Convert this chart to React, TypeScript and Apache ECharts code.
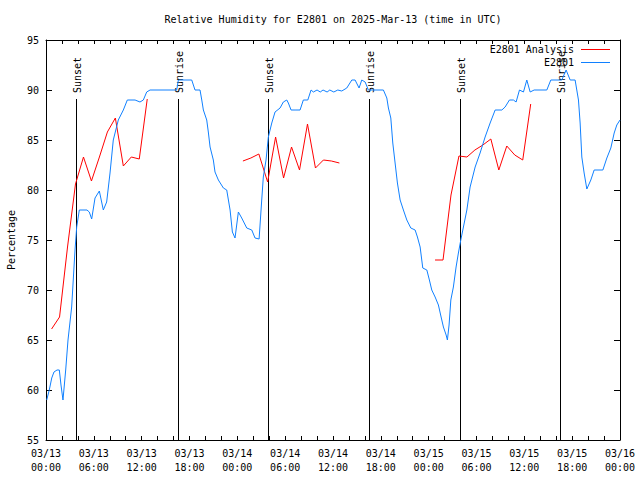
import React, { useEffect, useRef } from "react";
import * as echarts from "echarts";

const FONT = '"DejaVu Sans Mono", "Liberation Mono", monospace';

const TITLE = "Relative Humidity for E2801 on 2025-Mar-13 (time in UTC)";
const Y_LABEL = "Percentage";
const START_DAY = 13;

// Observed E2801 series: hours since 03/13 00:00 UTC and values (%)
const obsHours = [
  0.09, 0.41, 0.72, 1.0, 1.38, 1.67, 1.88, 2.13, 2.47, 2.76, 3.22, 3.64, 3.85, 4.18, 5.14, 5.43, 5.73,
  6.15, 6.69, 7.19, 7.61, 8.03, 8.44, 9.07, 9.7, 10.2, 11.17, 11.79, 12.21, 12.63, 13.05, 16.4, 16.6,
  18.28, 18.69, 19.32, 19.54, 19.74, 20.16, 20.36, 20.58, 20.99, 21.2, 21.62, 22.25, 22.67, 23.09,
  23.38, 23.71, 24.13, 24.55, 25.18, 25.81, 26.22, 26.73, 27.06, 27.26, 27.6, 27.89, 28.32, 28.73,
  29.36, 29.77, 30.2, 30.4, 30.74, 31.24, 31.87, 32.28, 32.84, 33.25, 33.54, 34.0, 34.4, 34.75, 35.26,
  35.6, 36.1, 36.6, 37.1, 37.73, 38.36, 38.77, 39.27, 39.61, 40.03, 40.44, 42.32, 42.75, 42.95, 43.25,
  43.5, 43.79, 44.08, 44.42, 44.83, 45.26, 45.76, 46.3, 46.59, 46.93, 47.26, 47.77, 48.09, 48.39,
  48.81, 49.22, 49.56, 49.85, 50.19, 50.35, 50.56, 50.78, 51.1, 51.44, 51.73, 52.03, 52.36, 52.79,
  53.2, 53.83, 54.45, 55.08, 55.71, 56.34, 57.18, 57.59, 58.13, 58.63, 58.97, 59.39, 59.89, 60.31,
  60.73, 61.23, 62.82, 63.32, 64.7, 65.24, 65.75, 66.37, 66.79, 67.0, 67.21, 67.5, 67.84, 68.34,
  68.76, 69.85, 70.35, 70.85, 71.27, 71.6, 72.0,
];
const obsValues = [
  59, 60, 61.2, 61.8, 62, 62, 60.5, 59, 62, 65, 68.3, 74, 76.3, 78, 78, 77.8, 77.1,
  79.2, 79.9, 78, 78.8, 81.7, 85, 87, 88, 89, 89, 88.8, 89, 89.8, 90, 90, 91,
  91, 90, 90, 89, 88, 87, 85.8, 84.3, 83, 81.8, 81, 80.2, 80, 78,
  75.8, 75.2, 77.8, 77.2, 76.2, 76, 75.2, 75.1, 79, 81.3, 83, 85.3, 86.7, 87.8,
  88.2, 88.8, 89, 88.7, 88, 88, 88, 89, 89, 90, 89.8, 90, 89.8, 90, 89.8,
  90, 89.8, 90, 89.9, 90.2, 91, 91, 90.2, 91, 90.8, 90, 90, 89.2, 88.2, 87.2,
  84.7, 82.7, 80.7, 79, 78, 77, 76.2, 76, 75.3, 74.3, 72.2, 72, 71, 70,
  69.3, 68.5, 67.3, 66.3, 65.5, 65, 66.5, 69, 70.3, 72.3, 73.7, 75, 76.3, 78,
  80.3, 82.3, 83.7, 85.3, 86.7, 88, 88, 88.3, 89, 89, 88.8, 90, 89.8, 91,
  89.8, 90, 90, 91, 91, 92, 91, 91, 89, 86.7, 83.3, 81.7, 80.1, 81,
  82, 82, 83.2, 84.2, 85.7, 86.5, 87,
];

// Analysis series, three runs
const anaHours1 = [0.7, 1.7, 2.7, 3.7, 4.7, 5.7, 6.7, 7.7, 8.7, 9.7, 10.7, 11.7, 12.7];
const anaValues1 = [66.1, 67.3, 74.3, 80.6, 83.3, 80.9, 83.3, 85.8, 87.2, 82.4, 83.3, 83.1, 89.1];
const anaHours2 = [24.7, 25.7, 26.7, 27.8, 28.8, 29.8, 30.8, 31.8, 32.8, 33.8, 34.8, 35.8, 36.8];
const anaValues2 = [82.9, 83.2, 83.6, 80.8, 85.3, 81.2, 84.3, 82, 86.6, 82.2, 83, 82.9, 82.7];
const anaHours3 = [48.8, 49.8, 50.8, 51.8, 52.8, 53.8, 54.8, 55.8, 56.8, 57.8, 58.8, 59.8, 60.8];
const anaValues3 = [73, 73, 79.5, 83.4, 83.3, 84, 84.5, 85.1, 82, 84.4, 83.5, 83, 88.6];

// Sunset / sunrise markers
const sunHours = [3.76, 16.5, 27.87, 40.55, 51.93, 64.5];
const sunLabels = ["Sunset", "Sunrise", "Sunset", "Sunrise", "Sunset", "Sunrise"];

const Y_MIN = 55;
const Y_MAX = 95;
const X_MIN = 0;
const X_MAX = 72;

const pad2 = (n: number) => (n < 10 ? "0" + n : "" + n);
const fmtTick = (v: number) => {
  const day = START_DAY + Math.floor(v / 24);
  const hour = Math.round(v % 24);
  return "03/" + pad2(day) + "\n" + pad2(hour) + ":00";
};

const pairs = (hs: number[], vs: number[]) => hs.map((h, i) => [h, vs[i]]);

export default function App() {
  const ref = useRef<HTMLDivElement>(null);
  useEffect(() => {
    if (!ref.current) return;
    const chart = echarts.init(ref.current, null, { renderer: "svg" });

    const obsData = pairs(obsHours, obsValues);
    const anaData: any[] = [
      ...pairs(anaHours1, anaValues1),
      [18, null],
      ...pairs(anaHours2, anaValues2),
      [42, null],
      ...pairs(anaHours3, anaValues3),
    ];

    const axisLine = { show: true, onZero: false, lineStyle: { color: "#000", width: 1 } };
    const xCommon = {
      type: "value",
      min: X_MIN,
      max: X_MAX,
      interval: 6,
      axisLine,
      axisTick: { show: true, inside: true, length: 4, lineStyle: { color: "#000", width: 1 } },
      minorTick: { show: true, splitNumber: 3, length: 4, lineStyle: { color: "#000", width: 1 } },
      splitLine: { show: false },
      minorSplitLine: { show: false },
    };
    const yCommon = {
      type: "value",
      min: Y_MIN,
      max: Y_MAX,
      interval: 5,
      axisLine,
      axisTick: { show: true, inside: true, length: 6, lineStyle: { color: "#000", width: 1 } },
      splitLine: { show: false },
    };

    const legendItems = [
      { label: "E2801 Analysis", color: "#ff0000", y: 49 },
      { label: "E2801", color: "#1080ff", y: 62 },
    ];

    chart.setOption({
      animation: false,
      grid: { left: 46, right: 20, top: 40, bottom: 40 },
      xAxis: [
        {
          ...xCommon,
          position: "bottom",
          axisLabel: {
            formatter: fmtTick,
            color: "#000",
            fontFamily: FONT,
            fontSize: 10,
            lineHeight: 14,
            margin: 6,
          },
        },
        { ...xCommon, position: "top", axisLabel: { show: false } },
      ],
      yAxis: [
        {
          ...yCommon,
          position: "left",
          axisLabel: { color: "#000", fontFamily: FONT, fontSize: 10, margin: 7 },
        },
        { ...yCommon, position: "right", axisLabel: { show: false } },
      ],
      graphic: [
        {
          type: "text",
          x: 333,
          y: 19,
          style: {
            text: TITLE,
            font: "10px " + FONT,
            fill: "#000",
            align: "center",
            verticalAlign: "middle",
          },
        },
        {
          type: "text",
          x: 11,
          y: 240,
          rotation: Math.PI / 2,
          style: {
            text: Y_LABEL,
            font: "10px " + FONT,
            fill: "#000",
            align: "center",
            verticalAlign: "middle",
          },
        },
        ...legendItems.flatMap((it) => [
          {
            type: "text",
            x: 574,
            y: it.y,
            z: 10,
            style: {
              text: it.label,
              font: "10px " + FONT,
              fill: "#000",
              align: "right",
              verticalAlign: "middle",
            },
          },
          {
            type: "line",
            z: 10,
            shape: { x1: 581, y1: it.y + 0.5, x2: 610, y2: it.y + 0.5 },
            style: { stroke: it.color, lineWidth: 1 },
          },
        ]),
      ],
      series: [
        {
          type: "custom",
          name: "sun",
          xAxisIndex: 0,
          yAxisIndex: 0,
          data: sunHours.map((h, i) => [h, Y_MIN, i]),
          encode: { x: 0, y: 1 },
          clip: false,
          z: 1,
          renderItem: (params: any, api: any) => {
            const h = api.value(0);
            const idx = api.value(2);
            const top = api.coord([h, Y_MAX]);
            const bottom = api.coord([h, Y_MIN]);
            const x = Math.round(top[0]) + 0.5;
            const lineTop = top[1] + 59;
            return {
              type: "group",
              children: [
                {
                  type: "line",
                  shape: { x1: x, y1: lineTop, x2: x, y2: bottom[1] },
                  style: { stroke: "#000", lineWidth: 1 },
                },
                {
                  type: "text",
                  x: x + 1,
                  y: lineTop - 6,
                  rotation: Math.PI / 2,
                  style: {
                    text: sunLabels[idx],
                    font: "10px " + FONT,
                    fill: "#000",
                    align: "left",
                    verticalAlign: "middle",
                  },
                },
              ],
            };
          },
        },
        {
          type: "line",
          name: "E2801 Analysis",
          data: anaData,
          showSymbol: false,
          symbol: "none",
          connectNulls: false,
          lineStyle: { color: "#ff0000", width: 1 },
          itemStyle: { color: "#ff0000" },
          z: 3,
        },
        {
          type: "line",
          name: "E2801",
          data: obsData,
          showSymbol: false,
          symbol: "none",
          lineStyle: { color: "#1080ff", width: 1 },
          itemStyle: { color: "#1080ff" },
          z: 4,
        },
      ],
    });
    return () => chart.dispose();
  }, []);

  return (
    <div
      ref={ref}
      style={{ position: "fixed", left: 0, top: 0, width: 640, height: 480, background: "#fff" }}
    />
  );
}
